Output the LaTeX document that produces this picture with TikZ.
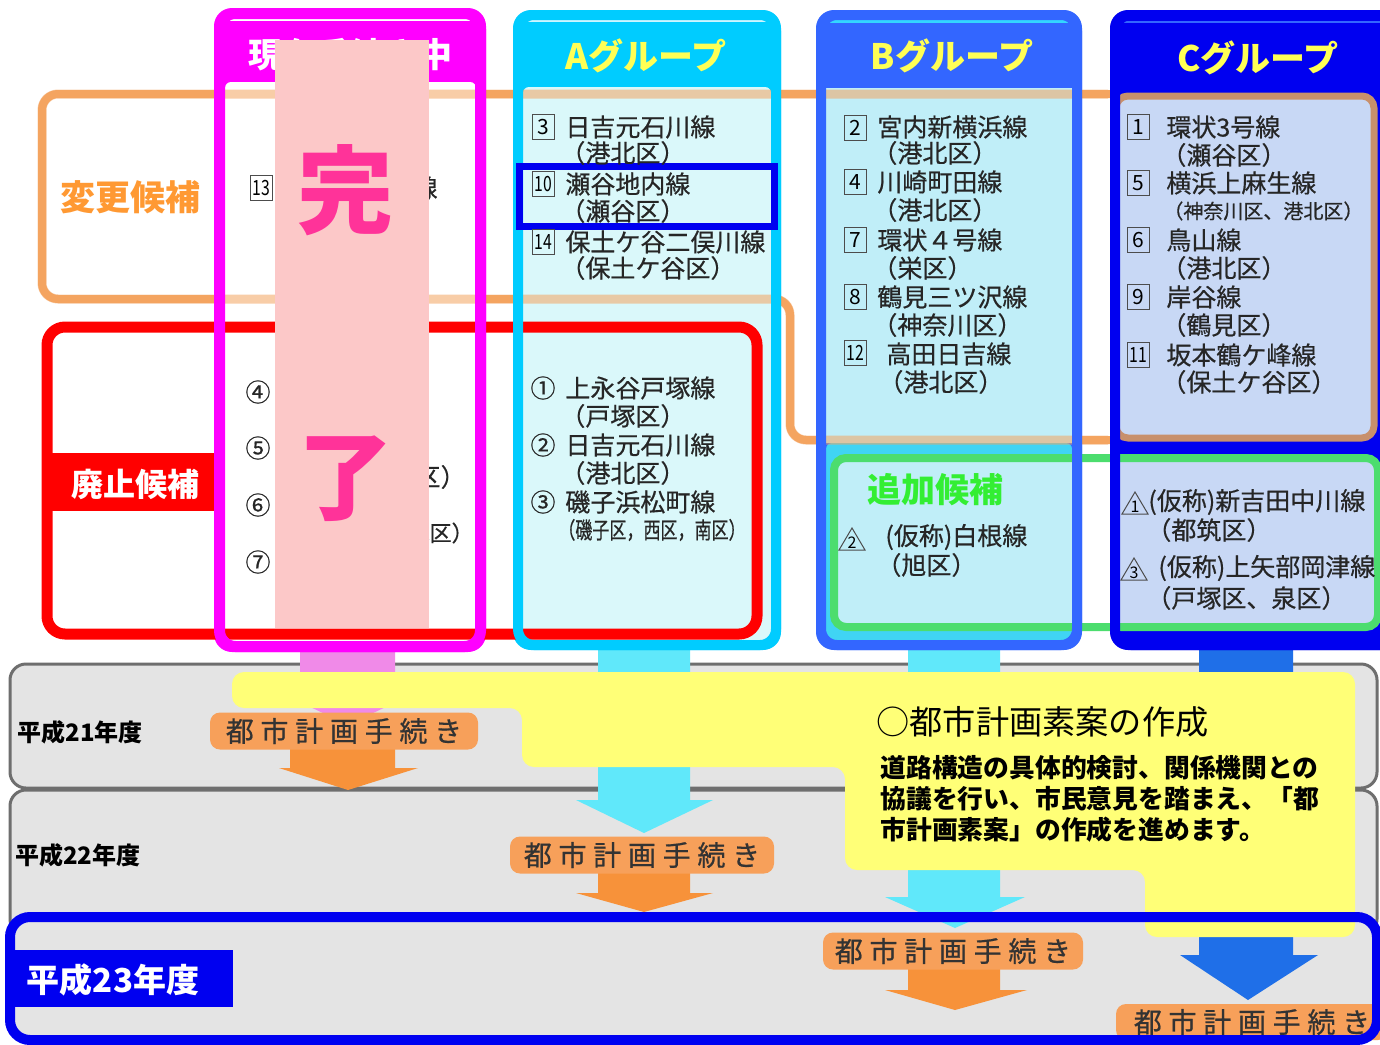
\documentclass[tikz,border=0pt]{standalone}
\usepackage{fontspec}
\usepackage{graphicx}
\setmainfont{Noto Sans CJK JP}
\newfontfamily\lblfont{Noto Sans CJK JP}[LetterSpace=24,FakeBold=0.6]
\newfontfamily\itemfont{Noto Sans CJK JP}[FakeBold=0.5]
\newcommand\fs[1]{\fontsize{#1pt}{#1pt}\selectfont}
\definecolor{mag}{HTML}{FF00FF}
\definecolor{cyA}{HTML}{00CCFF}
\definecolor{blB}{HTML}{3366FF}
\definecolor{blC}{HTML}{0000F0}
\definecolor{hdrY}{HTML}{FFFF55}
\definecolor{orl}{HTML}{F4A460}
\definecolor{fillA}{HTML}{DAF8FA}
\definecolor{fillB}{HTML}{C0EEF8}
\definecolor{cyanB}{HTML}{40D4F4}
\definecolor{fillC}{HTML}{C8D8F5}
\definecolor{brownC}{HTML}{C8906C}
\definecolor{grn}{HTML}{4CDD6E}
\definecolor{grnTxt}{HTML}{33EE33}
\definecolor{rowfill}{HTML}{E4E4E4}
\definecolor{rowline}{HTML}{6E6E6E}
\definecolor{yel}{HTML}{FFFF77}
\definecolor{pinkarr}{HTML}{F08AE8}
\definecolor{cyarr}{HTML}{60E8FA}
\definecolor{orarr}{HTML}{F7923A}
\definecolor{lblor}{HTML}{F7A05A}
\definecolor{bluarr}{HTML}{1F6FE8}
\definecolor{ovl}{HTML}{FCC8C8}
\definecolor{kan}{HTML}{FF3399}
\definecolor{henko}{HTML}{FF9933}
\tikzset{
  numbox/.style={draw=black!70, line width=0.45pt, minimum width=11pt, minimum height=12.5pt, inner sep=0pt, font=\fs{10.5}},
  item/.style={anchor=west, inner sep=0pt, font=\itemfont\fs{12.5}, text=black!85},
  circnum/.style={inner sep=0pt, font=\itemfont\fs{12.5}, text=black!85},
  grphdr/.style={font=\bfseries\fs{17.5}, text=hdrY, inner sep=0pt},
  proc/.style={fill=lblor, rounded corners=5pt, inner sep=0pt, text=black!80, font=\lblfont\fs{14}},
  rowlbl/.style={font=\bfseries\fs{12}, inner sep=0pt},
}
\newcommand\trinum[4]{%
  \begin{scope}[shift={(#1,#2)}]
    \draw[black!70, line width=0.5pt] (-13,10) -- (0,-12) -- (13,10) -- cycle;
    \node[inner sep=0pt, font=\fs{8}] (#4) at (0,3) {#3};
  \end{scope}}
\begin{document}
\begin{tikzpicture}[x=0.5pt,y=-0.5pt]
\useasboundingbox (0,0) rectangle (1380,1044);
\fill[white] (0,0) rectangle (1380,1044);

% ================= bottom section =================
\draw[rowline, line width=1.5pt, fill=rowfill, rounded corners=8pt] (10,664) rectangle (1377,788);
\draw[rowline, line width=1.5pt, fill=rowfill, rounded corners=8pt] (10,790) rectangle (1377,935);
\fill[rowfill, rounded corners=10pt] (10,917) rectangle (1377,1040);

% block arrows
\fill[pinkarr] (300,648) -- (395,648) -- (395,693) -- (415,693) -- (348,725) -- (281,693) -- (300,693) -- cycle;
\fill[cyarr] (598,648) -- (690,648) -- (690,800) -- (713,800) -- (644,833) -- (576,800) -- (598,800) -- cycle;
\fill[cyarr] (908,648) -- (1000,648) -- (1000,897) -- (1025,897) -- (955,928) -- (885,897) -- (908,897) -- cycle;
\fill[bluarr] (1199,648) -- (1293,648) -- (1293,955) -- (1318,955) -- (1248,1000) -- (1180,955) -- (1199,955) -- cycle;
\fill[orarr] (290,745) -- (395,745) -- (395,768) -- (418,768) -- (348,790) -- (279,768) -- (290,768) -- cycle;
\fill[orarr] (598,870) -- (690,870) -- (690,893) -- (713,893) -- (644,912) -- (576,893) -- (598,893) -- cycle;
\fill[orarr] (908,966) -- (1000,966) -- (1000,990) -- (1027,990) -- (955,1010) -- (885,990) -- (908,990) -- cycle;

% yellow region
\fill[yel, rounded corners=6pt] (232,672) -- (1355,672) -- (1355,937) -- (1145,937) -- (1145,870) -- (845,870) -- (845,767) -- (522,767) -- (522,708) -- (232,708) -- cycle;

% procedure labels
\node[proc, minimum width=134pt, minimum height=18.5pt] (p1) at (344,731) {都市計画手続き};
\node[proc, minimum width=132pt, minimum height=18.5pt] (p2) at (642,855) {都市計画手続き};
\node[proc, minimum width=130pt, minimum height=18.5pt] (p3) at (953,951) {都市計画手続き};
\node[proc, minimum width=136pt, minimum height=18pt] (p4) at (1252,1022) {都市計画手続き};

% yellow texts
\node[anchor=west, inner sep=0pt, font=\fs{16.6}] (ytitle) at (876,722) {○都市計画素案の作成};
\node[anchor=west, inner sep=0pt, font=\bfseries\fs{12.9}] (yl1) at (880,768) {道路構造の具体的検討、関係機関との};
\node[anchor=west, inner sep=0pt, font=\bfseries\fs{12.9}] (yl2) at (880,799) {協議を行い、市民意見を踏まえ、「都};
\node[anchor=west, inner sep=0pt, font=\bfseries\fs{12.9}] (yl3) at (880,830) {市計画素案」の作成を進めます。};

% row 3 border
\draw[blC, line width=5pt, rounded corners=10pt] (10,917) rectangle (1377,1040);

% row labels
\node[rowlbl] (y21) at (80,732) {平成21年度};
\node[rowlbl] (y22) at (78,855) {平成22年度};
\fill[blC] (12,950) rectangle (233,1007);
\node[font=\bfseries\fs{16.5}, text=white, inner sep=0pt] (y23) at (113,980) {平成23年度};

% ================= top section =================
% orange outline (change candidates)
\draw[orl, line width=4pt, rounded corners=8pt] (42,94) -- (1400,94) -- (1400,440) -- (790,440) -- (790,299) -- (42,299) -- cycle;
\fill[white] (55,167) rectangle (203,213);
\node[font=\bfseries\fs{17.5}, text=henko, inner sep=0pt] (henkolbl) at (130,197) {変更候補};

% column fills
\fill[mag, rounded corners=9pt] (214,8) rectangle (486,652);
\fill[white, rounded corners=3pt] (225,82) rectangle (476,642);
\draw[white, line width=1.2pt] (229,20) -- (471,20);

\fill[cyA, rounded corners=9pt] (513,10) rectangle (781,650);
\fill[fillA, rounded corners=3pt] (523,87) rectangle (771,640);
\draw[white!80!cyA, line width=1.2pt] (527,21) -- (767,21);

\fill[blB, rounded corners=9pt] (816,10) rectangle (1082,650);
\fill[fillB] (826,88) rectangle (1072,443);
\fill[cyanB, rounded corners=3pt] (826,443) rectangle (1072,640);
\draw[cyA!80!white, line width=1.5pt] (829,21) -- (1069,21);

\fill[blC, rounded corners=9pt] (1110,10) rectangle (1420,650);
\draw[blB, line width=1.2pt] (1121,22) -- (1400,22);
\draw[brownC, line width=3.5pt, fill=fillC, rounded corners=6pt] (1116,96) rectangle (1374,438);

% orange tint through the columns
\begin{scope}
  \clip (0,0) rectangle (1108,1044);
  \draw[orl, opacity=0.55, line width=4.5pt, rounded corners=8pt] (42,94) -- (1400,94) -- (1400,440) -- (790,440) -- (790,299) -- (42,299) -- cycle;
\end{scope}

% green (additional candidates)
\fill[fillB] (838,462) rectangle (1072,623);
\fill[fillC] (1120,462) rectangle (1374,623);
\draw[grn, line width=4pt, rounded corners=6pt] (834,458) rectangle (1378,627);

% red outline (abolition candidates)
\draw[red, line width=5.5pt, rounded corners=9pt] (47,327) rectangle (757,634);
\fill[red] (52,453) rectangle (218,511);
\node[font=\bfseries\fs{16}, text=white, inner sep=0pt] (haishi) at (135,484) {廃止候補};

% column borders
\draw[mag, line width=5.5pt, rounded corners=8pt] (219.5,13.5) rectangle (480.5,646.5);
\draw[cyA, line width=5pt, rounded corners=8pt] (518,15) rectangle (776,645);
\draw[blB, line width=5pt, rounded corners=8pt] (821,15) rectangle (1077,645);
\draw[blC, line width=5pt, rounded corners=8pt] (1115,15) rectangle (1415,645);

% highlight box in A
\draw[blC, line width=3.5pt] (519,166) rectangle (774,226);

% headers
\node[font=\bfseries\fs{17}, text=white, inner sep=0pt] (hdrM) at (350,55) {現在手続き中};
\node[grphdr] (hdrA) at (646,56) {Aグループ};
\node[grphdr] (hdrB) at (952,56) {Bグループ};
\node[grphdr] (hdrC) at (1258,58) {Cグループ};

% ---- current column items
\node[numbox] (m13) at (261,188) {\scalebox{0.75}[1]{13}};
\node[circnum] (m4) at (258,392) {④};
\node[circnum] (m5) at (258,448) {⑤};
\node[circnum] (m6) at (258,505) {⑥};
\node[circnum] (m7) at (258,562) {⑦};
\node[item, anchor=center] (m13t) at (425,188) {線};
\node[item, anchor=east] (m6t) at (466,477) {区）};
\node[item, anchor=east, font=\itemfont\fs{11}] (m7t) at (474,533) {塚区）};

% ---- A group
\node[numbox] (a3) at (543,127) {3};
\node[item] (a3t) at (565,127) {日吉元石川線};
\node[item] (a3d) at (560,153) {（港北区）};
\node[numbox] (a10) at (543,184) {\scalebox{0.75}[1]{10}};
\node[item] (a10t) at (565,184) {瀬谷地内線};
\node[item] (a10d) at (560,211) {（瀬谷区）};
\node[numbox] (a14) at (543,242) {\scalebox{0.75}[1]{14}};
\node[item] (a14t) at (565,242) {保土ケ谷二俣川線};
\node[item] (a14d) at (560,268) {（保土ケ谷区）};
\node[circnum] (ac1) at (543,388) {①};
\node[item] (ac1t) at (565,388) {上永谷戸塚線};
\node[item] (ac1d) at (560,416) {（戸塚区）};
\node[circnum] (ac2) at (543,445) {②};
\node[item] (ac2t) at (565,445) {日吉元石川線};
\node[item] (ac2d) at (560,473) {（港北区）};
\node[circnum] (ac3) at (543,502) {③};
\node[item] (ac3t) at (565,502) {磯子浜松町線};
\node[item, font=\itemfont\fs{11.5}] (ac3d) at (558,530) {\scalebox{0.74}[1]{（磯子区，西区，南区）}};

% ---- B group
\node[numbox] (b2) at (855,128) {2};
\node[item] (b2t) at (877,127) {宮内新横浜線};
\node[item] (b2d) at (872,153) {（港北区）};
\node[numbox] (b4) at (855,182) {4};
\node[item] (b4t) at (877,182) {川崎町田線};
\node[item] (b4d) at (872,210) {（港北区）};
\node[numbox] (b7) at (855,240) {7};
\node[item] (b7t) at (877,240) {環状４号線};
\node[item] (b7d) at (872,268) {（栄区）};
\node[numbox] (b8) at (855,297) {8};
\node[item] (b8t) at (877,297) {鶴見三ツ沢線};
\node[item] (b8d) at (872,325) {（神奈川区）};
\node[numbox] (b12) at (855,353) {\scalebox{0.75}[1]{12}};
\node[item] (b12t) at (886,354) {高田日吉線};
\node[item] (b12d) at (878,382) {（港北区）};
\node[font=\bfseries\fs{17}, text=grnTxt, inner sep=0pt] (tsuika) at (935,490) {追加候補};
\trinum{852}{540}{2}{bt2}
\node[item] (bt2t) at (885,537) {(仮称)白根線};
\node[item] (bt2d) at (876,565) {（旭区）};

% ---- C group
\node[numbox] (c1) at (1138,127) {1};
\node[item] (c1t) at (1166,127) {環状3号線};
\node[item] (c1d) at (1161,155) {（瀬谷区）};
\node[numbox] (c5) at (1138,183) {5};
\node[item] (c5t) at (1166,183) {横浜上麻生線};
\node[item, font=\itemfont\fs{10}] (c5d) at (1163,211) {（神奈川区、港北区）};
\node[numbox] (c6) at (1138,240) {6};
\node[item] (c6t) at (1166,240) {鳥山線};
\node[item] (c6d) at (1161,268) {（港北区）};
\node[numbox] (c9) at (1138,297) {9};
\node[item] (c9t) at (1166,297) {岸谷線};
\node[item] (c9d) at (1161,325) {（鶴見区）};
\node[numbox] (c11) at (1138,355) {\scalebox{0.75}[1]{11}};
\node[item] (c11t) at (1166,355) {坂本鶴ケ峰線};
\node[item] (c11d) at (1161,382) {（保土ケ谷区）};
\trinum{1135}{504}{1}{ct1}
\node[item] (ct1t) at (1148,502) {(仮称)新吉田中川線};
\node[item] (ct1d) at (1146,530) {（都筑区）};
\trinum{1134}{570}{3}{ct3}
\node[item] (ct3t) at (1158,568) {(仮称)上矢部岡津線};
\node[item] (ct3d) at (1146,598) {（戸塚区、泉区）};

% ---- completion overlay
\fill[ovl] (275,40) rectangle (429,628);
\node[font=\bfseries\fs{48}, text=kan, inner sep=0pt] (kan1) at (345,190) {完};
\node[font=\bfseries\fs{48}, text=kan, inner sep=0pt] (kan2) at (345,479) {了};
\end{tikzpicture}
\end{document}
